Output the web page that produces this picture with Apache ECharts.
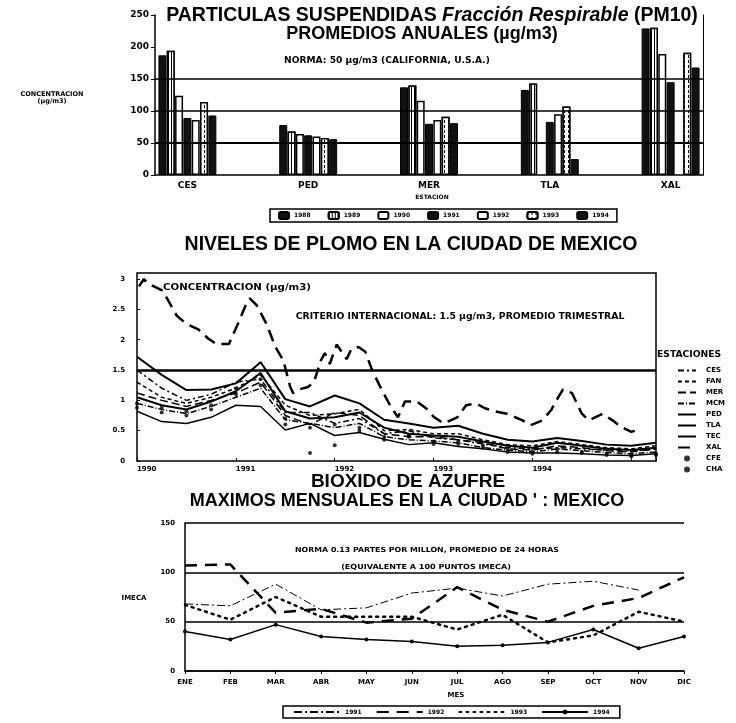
<!DOCTYPE html>
<html><head><meta charset="utf-8">
<script src="https://cdn.jsdelivr.net/npm/echarts@6/dist/echarts.min.js"></script>
<style>html,body{margin:0;padding:0;background:#fff}#c{width:736px;height:723px}</style>
</head><body><div id="c"></div>
<script>
// ---------- Chart 1: PM10 annual averages ----------
const stations = ['CES','PED','MER','TLA','XAL'];
const years1 = ['1988','1989','1990','1991','1992','1993','1994'];
const pm1988 = [187, 78, 137, 133, 229];
const pm1989 = [194, 68, 140, 143, 230];
const pm1990 = [124, 64, 116, null, 189];
const pm1991 = [89, 62, 80, 83, 145];
const pm1992 = [86, 60, 86, 95, null];
const pm1993 = [114, 58, 91, 107, 191];
const pm1994 = [93, 56, 81, 25, 168];
const pmGrid = [100, 150];
const pmNorm = 50;

// ---------- Chart 2: lead levels ----------
const plomoT = [1990.00,1990.25,1990.50,1990.75,1991.00,1991.25,1991.50,1991.75,1992.00,1992.25,1992.50,1992.75,1993.00,1993.25,1993.50,1993.75,1994.00,1994.25,1994.50,1994.75,1995.00,1995.25];
const pbCES = [1.50,1.20,1.00,1.10,1.30,1.35,0.80,0.80,0.62,0.70,0.45,0.50,0.38,0.35,0.28,0.22,0.20,0.22,0.20,0.18,0.16,0.20];
const pbFAN = [1.30,1.05,0.95,1.05,1.20,1.42,0.92,0.75,0.78,0.85,0.50,0.52,0.45,0.45,0.35,0.27,0.25,0.32,0.27,0.22,0.20,0.25];
const pbMER = [1.12,1.00,0.90,1.00,1.12,1.30,0.75,0.60,0.80,0.75,0.45,0.40,0.40,0.35,0.30,0.20,0.18,0.25,0.22,0.17,0.15,0.20];
const pbMCM = [0.95,0.85,0.78,0.90,1.05,1.20,0.68,0.62,0.55,0.62,0.40,0.35,0.33,0.30,0.22,0.18,0.15,0.20,0.17,0.14,0.12,0.15];
const pbPED = [1.05,0.92,0.85,0.98,1.15,1.45,0.82,0.70,0.72,0.80,0.55,0.45,0.42,0.40,0.32,0.25,0.22,0.30,0.25,0.20,0.18,0.22];
const pbTLA = [0.82,0.65,0.62,0.72,0.92,0.90,0.51,0.62,0.42,0.47,0.36,0.27,0.30,0.24,0.20,0.15,0.13,0.13,0.12,0.10,0.09,0.12];
const pbTEC = [1.72,1.42,1.17,1.18,1.28,1.63,1.02,0.90,1.08,0.95,0.68,0.62,0.55,0.58,0.45,0.35,0.32,0.38,0.33,0.27,0.25,0.30];
const pbCFE = [0.88,0.80,0.75,0.85,1.10,1.25,0.60,0.55,0.60,0.50,0.35,0.40,0.28,0.28,0.22,0.15,0.12,0.15,0.13,0.10,0.08,0.10];
const pbCHA = [0.95,0.88,0.82,0.92,1.20,1.35,0.70,0.13,0.26,0.55,0.40,0.42,0.32,0.32,0.26,0.18,0.16,0.20,0.15,0.12,0.10,0.12];
const xalT = [1990.02,1990.07,1990.12,1990.26,1990.40,1990.50,1990.62,1990.72,1990.80,1990.93,1991.02,1991.10,1991.14,1991.21,1991.31,1991.40,1991.48,1991.55,1991.58,1991.64,1991.73,1991.79,1991.86,1991.90,1991.95,1992.02,1992.07,1992.12,1992.17,1992.24,1992.31,1992.38,1992.48,1992.57,1992.64,1992.71,1992.83,1992.93,1993.00,1993.10,1993.24,1993.33,1993.43,1993.52,1993.62,1993.74,1993.90,1993.98,1994.10,1994.19,1994.26,1994.31,1994.40,1994.50,1994.57,1994.71,1994.81,1994.90,1995.00,1995.10];
const pbXAL = [2.88,3.00,2.92,2.81,2.40,2.26,2.17,2.02,1.93,1.93,2.26,2.57,2.68,2.57,2.26,1.88,1.66,1.22,1.12,1.18,1.22,1.30,1.66,1.78,1.60,1.92,1.80,1.68,1.85,1.88,1.80,1.49,1.16,0.89,0.72,0.98,0.98,0.86,0.73,0.62,0.72,0.92,0.95,0.87,0.82,0.78,0.67,0.59,0.67,0.84,1.05,1.18,1.12,0.78,0.67,0.78,0.67,0.56,0.48,0.53];
const pbCrit = 1.5;
const yearTicks = [1990,1991,1992,1993,1994];

// ---------- Chart 3: SO2 monthly maxima ----------
const months = ['ENE','FEB','MAR','ABR','MAY','JUN','JUL','AGO','SEP','OCT','NOV','DIC'];
const so1991 = [68, 66, 88, 62, 64, 79, 84, 76, 88, 91, 82, null];
const so1992 = [107, 108, 59, 63, 49, 53, 85, 62, 50, 66, 74, 95];
const so1993 = [67, 52, 75, 55, 55, 55, 42, 57, 29, 36, 60, 50];
const so1994 = [40, 32, 47, 35, 32, 30, 25, 26, 29, 42, 23, 35];

const F = 'DejaVu Sans';
const A = 'Liberation Sans';
const K = '#000';

const pair = (xs, ys) => xs.map((x, i) => [x, ys[i]]);

function txt(text, x, y, font, align, sx) {
  return {type:'text', z:50, x:x, y:y, scaleX:sx || 1, style:{text:text, x:0, y:0, font:font, fill:K,
    textAlign:align||'center', align:align||'center', textVerticalAlign:'middle', verticalAlign:'middle'}};
}

const barStyles = {
  '1988': {color:'#111', borderColor:K, borderWidth:1},
  '1989': {color:'#fff', borderColor:K, borderWidth:1.5, decal:{symbol:'rect', symbolSize:1, dashArrayX:[1,2], dashArrayY:[10,0], color:'#000', backgroundColor:'#fff'}},
  '1990': {color:'#fff', borderColor:K, borderWidth:1.5},
  '1991': {color:'#111', borderColor:K, borderWidth:1},
  '1992': {color:'#fff', borderColor:K, borderWidth:1.5},
  '1993': {color:'#fff', borderColor:K, borderWidth:1.5, decal:{symbol:'rect', symbolSize:1, dashArrayX:[1,3], dashArrayY:[3,2], color:'#000', backgroundColor:'#fff'}},
  '1994': {color:'#111', borderColor:K, borderWidth:1}
};
const pmData = [pm1988, pm1989, pm1990, pm1991, pm1992, pm1993, pm1994];

const series = [];
series.push({type:'line', xAxisIndex:0, yAxisIndex:0, data:[], z:1, silent:true,
  markLine:{silent:true, symbol:'none', label:{show:false}, lineStyle:{color:K, width:1.5, type:'solid'},
    data: pmGrid.map(v => ({yAxis:v}))}});
years1.forEach((y, i) => {
  series.push({type:'bar', name:y, xAxisIndex:1, yAxisIndex:2, data:pmData[i], barWidth:8, barGap:'4%',
    itemStyle:barStyles[y], z:3, silent:true});
});
series.push({type:'line', xAxisIndex:0, yAxisIndex:0, data:[], z:10, silent:true,
  markLine:{silent:true, symbol:'none', label:{show:false}, lineStyle:{color:K, width:2, type:'solid'},
    data:[{yAxis:pmNorm}]}});

const pbSeries = [
  ['CES', pbCES, {width:1.5, type:[6,3,2,3]}],
  ['FAN', pbFAN, {width:1.5, type:[4,3]}],
  ['MER', pbMER, {width:1.5, type:[8,4]}],
  ['MCM', pbMCM, {width:1.5, type:[6,2,1,2]}],
  ['PED', pbPED, {width:2, type:'solid'}],
  ['TLA', pbTLA, {width:1.5, type:'solid'}],
  ['TEC', pbTEC, {width:2, type:'solid'}]
];
pbSeries.forEach(s => {
  series.push({type:'line', name:s[0], xAxisIndex:2, yAxisIndex:3, data:pair(plomoT, s[1]),
    showSymbol:false, symbol:'none', lineStyle:Object.assign({color:K}, s[2]), itemStyle:{color:K}, silent:true});
});
series.push({type:'line', name:'XAL', xAxisIndex:2, yAxisIndex:3, data:pair(xalT, pbXAL),
  symbol:'none', showSymbol:false, lineStyle:{color:K, width:2.5, type:[12,7]}, itemStyle:{color:K}, silent:true,
  markLine:{silent:true, symbol:'none', label:{show:false}, lineStyle:{color:K, width:2.5, type:'solid'}, data:[{yAxis:pbCrit}]}});
series.push({type:'scatter', name:'CFE', xAxisIndex:2, yAxisIndex:3, data:pair(plomoT, pbCFE), symbolSize:4, itemStyle:{color:K}, silent:true});
series.push({type:'scatter', name:'CHA', xAxisIndex:2, yAxisIndex:3, data:pair(plomoT, pbCHA), symbolSize:4, itemStyle:{color:K}, silent:true});

const soSeries = [
  ['so1991', so1991, {width:1, type:[8,3,2,3]}, 'none'],
  ['so1992', so1992, {width:2.5, type:[12,8]}, 'none'],
  ['so1993', so1993, {width:2.5, type:[2,5], cap:'round'}, 'none'],
  ['so1994', so1994, {width:1.5, type:'solid'}, 'circle']
];
soSeries.forEach(s => {
  series.push({type:'line', name:s[0], xAxisIndex:3, yAxisIndex:4, data:s[1], symbol:s[3], symbolSize:4,
    showSymbol:s[3] !== 'none', lineStyle:Object.assign({color:K}, s[2]), itemStyle:{color:K}, silent:true});
});

const tickFont = {fontFamily:F, fontWeight:'bold', color:K};
const noDot = {color:'transparent', borderColor:'transparent', borderWidth:0};
const legendItems = (names, dotted) => names.map(n => dotted.indexOf(n) >= 0 ? {name:n} : {name:n, itemStyle:noDot});

const option = {
  animation:false,
  backgroundColor:'#fff',
  grid:[
    {left:155, right:33, top:15, bottom:548},
    {left:127, right:5, top:15, bottom:548},
    {left:137, right:80, top:273, bottom:262, show:true, borderColor:K, borderWidth:1.5, backgroundColor:'transparent'},
    {left:185, right:52, top:523, bottom:52}
  ],
  xAxis:[
    {gridIndex:0, type:'value', min:0, max:1, axisLine:{show:true, lineStyle:{color:K, width:1.5}}, axisTick:{show:false}, axisLabel:{show:false}, splitLine:{show:false}},
    {gridIndex:1, type:'category', data:stations, axisLine:{show:false}, axisTick:{show:false}, axisLabel:Object.assign({fontSize:9, margin:6}, tickFont)},
    {gridIndex:2, type:'value', min:1990, max:1995.25, interval:1, axisLine:{show:false}, axisTick:{show:true, inside:true, length:3, lineStyle:{color:K}},
      axisLabel:Object.assign({fontSize:7, margin:5, align:'left', formatter: v => yearTicks.indexOf(v) >= 0 ? String(v) : ''}, tickFont), splitLine:{show:false}},
    {gridIndex:3, type:'category', data:months, boundaryGap:false, axisLine:{show:true, lineStyle:{color:K, width:1.5}},
      axisTick:{show:true, length:3, lineStyle:{color:K}}, axisLabel:Object.assign({fontSize:7, margin:8}, tickFont)}
  ],
  yAxis:[
    {gridIndex:0, type:'value', min:0, max:250, interval:50, axisLine:{show:true, lineStyle:{color:K, width:1.5}}, axisTick:{show:true, length:4, lineStyle:{color:K}},
      axisLabel:Object.assign({fontSize:9, margin:6}, tickFont), splitLine:{show:false}},
    {gridIndex:0, type:'value', position:'right', min:0, max:250, interval:50, axisLine:{show:true, lineStyle:{color:K, width:1}}, axisTick:{show:false}, axisLabel:{show:false}, splitLine:{show:false}},
    {gridIndex:1, type:'value', min:0, max:250, show:false},
    {gridIndex:2, type:'value', min:0, max:3.1, interval:0.5, axisLine:{show:false}, axisTick:{show:true, inside:true, length:3, lineStyle:{color:K}},
      axisLabel:Object.assign({fontSize:7, margin:12, showMaxLabel:false}, tickFont), splitLine:{show:false}},
    {gridIndex:3, type:'value', min:0, max:150, interval:50, axisLine:{show:true, lineStyle:{color:K, width:1.5}}, axisTick:{show:false},
      axisLabel:Object.assign({fontSize:7, margin:10}, tickFont), splitLine:{show:true, lineStyle:{color:K, width:1.5}}}
  ],
  legend:[
    {data:years1, left:270, top:209, orient:'horizontal', selectedMode:false, itemWidth:10, itemHeight:7, itemGap:17,
      borderColor:K, borderWidth:1.5, padding:[2,8], textStyle:{fontFamily:F, fontWeight:'bold', fontSize:6, color:K}},
    {data:legendItems(['CES','FAN','MER','MCM','PED','TLA','TEC','XAL','CFE','CHA'], ['CFE','CHA']), left:672, top:362, orient:'vertical', selectedMode:false,
      itemWidth:18, itemHeight:6, itemGap:4, textStyle:{fontFamily:F, fontWeight:'bold', fontSize:7, color:K, padding:[0,0,0,5]}},
    {data:legendItems(['so1991','so1992','so1993','so1994'], ['so1994']), left:283, top:706, orient:'horizontal', selectedMode:false, itemWidth:46, itemHeight:6, itemGap:14,
      borderColor:K, borderWidth:1.5, padding:[3,10], formatter: n => n.replace('so',''), textStyle:{fontFamily:F, fontWeight:'bold', fontSize:6, color:K}}
  ],
  series:series,
  graphic:[
    {type:'text', z:50, x:432, y:16, style:{x:0, y:0, textAlign:'center', align:'center', textVerticalAlign:'middle', verticalAlign:'middle', fill:K,
      text:'{n|PARTICULAS SUSPENDIDAS }{i|Fracción Respirable}{n| (PM10)}',
      rich:{n:{fontFamily:A, fontWeight:'bold', fontSize:19.5, fill:K, color:K}, i:{fontFamily:A, fontWeight:'bold', fontStyle:'italic', fontSize:19.5, fill:K, color:K}}}},
    txt('PROMEDIOS ANUALES (µg/m3)', 422, 34, 'bold 18px "Liberation Sans"'),
    txt('NORMA: 50 µg/m3 (CALIFORNIA, U.S.A.)', 387, 61, 'bold 8px "DejaVu Sans"', 'center', 1.14),
    txt('CONCENTRACION', 52, 94, 'bold 6.5px "DejaVu Sans"'),
    txt('(µg/m3)', 52, 101, 'bold 6.5px "DejaVu Sans"'),
    txt('ESTACION', 432, 197, 'bold 6px "DejaVu Sans"'),
    txt('NIVELES DE PLOMO EN LA CIUDAD DE MEXICO', 411, 245, 'bold 19.5px "Liberation Sans"'),
    txt('CONCENTRACION (µg/m3)', 163, 288, 'bold 8.5px "DejaVu Sans"', 'left', 1.2),
    txt('CRITERIO INTERNACIONAL: 1.5 µg/m3, PROMEDIO TRIMESTRAL', 460, 317, 'bold 8px "DejaVu Sans"', 'center', 1.16),
    txt('ESTACIONES', 657, 355, 'bold 8px "DejaVu Sans"', 'left', 1.15),
    txt('BIOXIDO DE AZUFRE', 408, 482, 'bold 19px "Liberation Sans"'),
    txt("MAXIMOS MENSUALES EN LA CIUDAD ' : MEXICO", 407, 501, 'bold 18px "Liberation Sans"'),
    txt('NORMA 0.13 PARTES POR MILLON, PROMEDIO DE 24 HORAS', 427, 550, 'bold 7px "DejaVu Sans"', 'center', 1.12),
    txt('(EQUIVALENTE A 100 PUNTOS IMECA)', 426, 567, 'bold 7px "DejaVu Sans"', 'center', 1.15),
    txt('IMECA', 134, 598, 'bold 7px "DejaVu Sans"'),
    txt('MES', 456, 695, 'bold 7px "DejaVu Sans"')
  ]
};

const chart = echarts.init(document.getElementById('c'), null, {renderer:'canvas', width:736, height:723});
chart.setOption(option);
</script>
</body></html>
